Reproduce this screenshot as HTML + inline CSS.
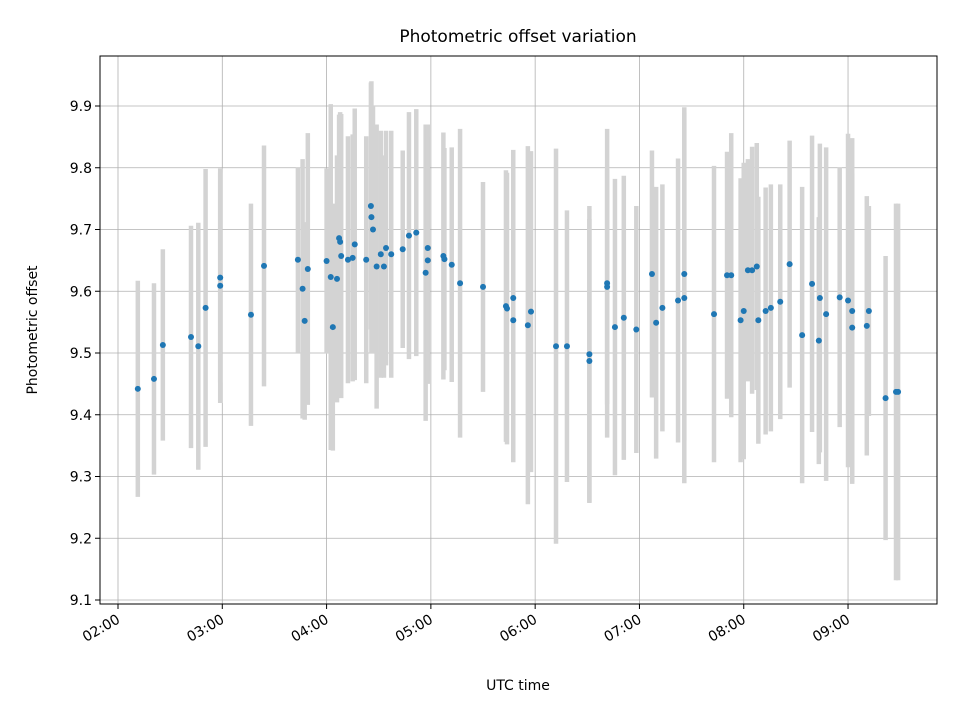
<!DOCTYPE html>
<html><head><meta charset="utf-8"><style>
body{margin:0;background:#fff;}
svg text{font-family:"DejaVu Sans","Liberation Sans",sans-serif;fill:#000;}
</style></head><body>
<svg id="chart" width="960" height="720"></svg>
<script>
const times=[2.19,2.345,2.43,2.70,2.77,2.84,2.98,2.98,3.275,3.40,3.725,3.77,3.79,3.82,4.00,4.04,4.06,4.10,4.12,4.13,4.14,4.205,4.25,4.27,4.38,4.425,4.43,4.445,4.48,4.52,4.55,4.57,4.62,4.73,4.79,4.86,4.95,4.97,4.97,5.12,5.13,5.20,5.28,5.50,5.72,5.73,5.79,5.79,5.93,5.96,6.20,6.305,6.52,6.52,6.69,6.69,6.765,6.85,6.97,7.12,7.16,7.22,7.37,7.43,7.43,7.715,7.84,7.88,7.97,8.00,8.04,8.08,8.125,8.14,8.21,8.26,8.35,8.44,8.56,8.655,8.72,8.73,8.79,8.92,9.00,9.04,9.04,9.18,9.20,9.36,9.46,9.48];
const values=[9.442,9.458,9.513,9.526,9.511,9.573,9.609,9.622,9.562,9.641,9.651,9.604,9.552,9.636,9.649,9.623,9.542,9.62,9.686,9.68,9.657,9.651,9.654,9.676,9.651,9.738,9.72,9.70,9.64,9.66,9.64,9.67,9.66,9.668,9.69,9.695,9.63,9.67,9.65,9.657,9.652,9.643,9.613,9.607,9.576,9.572,9.589,9.553,9.545,9.567,9.511,9.511,9.498,9.487,9.613,9.607,9.542,9.557,9.538,9.628,9.549,9.573,9.585,9.628,9.589,9.563,9.626,9.626,9.553,9.568,9.634,9.634,9.64,9.553,9.568,9.573,9.583,9.644,9.529,9.612,9.52,9.589,9.563,9.59,9.585,9.568,9.541,9.544,9.568,9.427,9.437,9.437];
const errors=[0.175,0.155,0.155,0.18,0.2,0.225,0.19,0.17,0.18,0.195,0.15,0.21,0.16,0.22,0.15,0.28,0.2,0.2,0.2,0.21,0.23,0.2,0.2,0.22,0.2,0.2,0.22,0.2,0.23,0.2,0.18,0.19,0.2,0.16,0.2,0.2,0.24,0.2,0.2,0.2,0.18,0.19,0.25,0.17,0.22,0.22,0.24,0.23,0.29,0.26,0.32,0.22,0.24,0.23,0.25,0.19,0.24,0.23,0.2,0.2,0.22,0.2,0.23,0.27,0.3,0.24,0.2,0.23,0.23,0.24,0.18,0.2,0.2,0.2,0.2,0.2,0.19,0.2,0.24,0.24,0.2,0.25,0.27,0.21,0.27,0.28,0.25,0.21,0.17,0.23,0.305,0.305];
const xTicks=[2,3,4,5,6,7,8,9];
const xTickLabels=["02:00","03:00","04:00","05:00","06:00","07:00","08:00","09:00"];
const yTicks=[9.1,9.2,9.3,9.4,9.5,9.6,9.7,9.8,9.9];

const L=100,R=937,T=56,B=604;
const xs=h=>118+(h-2)*104.29;
const ys=v=>600-(v-9.1)*617.5;
const svg=document.getElementById('chart');
const NS='http://www.w3.org/2000/svg';
function mk(tag,attrs,parent){const e=document.createElementNS(NS,tag);for(const k in attrs)e.setAttribute(k,attrs[k]);(parent||svg).appendChild(e);return e;}

const grid=mk('g',{});


xTicks.forEach(t=>{const l=mk('line',{x1:xs(t),x2:xs(t),y1:T,y2:B,stroke:'#b0b0b0','stroke-width':0.8},grid);

});
yTicks.forEach(t=>{const l=mk('line',{x1:L,x2:R,y1:ys(t),y2:ys(t),stroke:'#b0b0b0','stroke-width':0.8},grid);

});

const bars=mk('g',{});


times.forEach((t,i)=>{const l=mk('line',{x1:xs(t),x2:xs(t),y1:ys(values[i]+errors[i]),y2:ys(values[i]-errors[i]),stroke:'#d3d3d3','stroke-width':4.5},bars);

});
const pts=mk('g',{});


times.forEach((t,i)=>{const c=mk('circle',{cx:xs(t),cy:ys(values[i]),r:3,fill:'#1f77b4'},pts);

});

const frame=mk('rect',{x:L,y:T,width:R-L,height:B-T,fill:'none',stroke:'#000','stroke-width':1});



const xax=mk('g',{});


xTicks.forEach((t,i)=>{const x=xs(t);
mk('line',{x1:x,x2:x,y1:B,y2:B+5,stroke:'#000'},xax);
const tx=mk('text',{x:x+3,y:B+18,'font-size':14,'text-anchor':'end',transform:`rotate(-30 ${x+3} ${B+18})`},xax);
tx.textContent=xTickLabels[i];

});
const yax=mk('g',{});


yTicks.forEach(t=>{const y=ys(t);
mk('line',{x1:L-5,x2:L,y1:y,y2:y,stroke:'#000'},yax);
const tx=mk('text',{x:L-8,y:y+5,'font-size':14,'text-anchor':'end'},yax);
tx.textContent=t.toFixed(1);

});

const title=mk('text',{x:518,y:42,'font-size':17,'text-anchor':'middle'});
title.textContent='Photometric offset variation';


const xl=mk('text',{x:518,y:690,'font-size':14,'text-anchor':'middle'});
xl.textContent='UTC time';


const yl=mk('text',{x:37,y:330,'font-size':14,'text-anchor':'middle',transform:'rotate(-90 37 330)'});
yl.textContent='Photometric offset';


</script>
</body></html>
